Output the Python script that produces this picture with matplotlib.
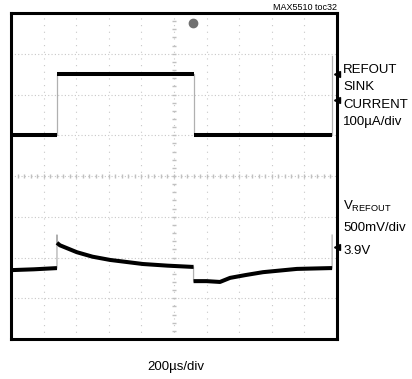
import numpy as np
import matplotlib.pyplot as plt

plt.rcParams['font.family'] = ['Liberation Sans', 'DejaVu Sans']

# scope screen in divisions: 10 across, 8 high
current_t = [0.0, 1.41, 1.41, 5.60, 5.60, 9.85, 9.85]
current_v = [5.0, 5.0, 6.5, 6.5, 5.0, 5.0, 6.95]

volt_t = [0.0, 0.70, 1.41, 1.41, 1.41, 1.50, 2.02, 2.50, 3.04, 4.05, 4.80, 5.55, 5.60,
          5.60, 6.00, 6.41, 6.72, 7.20, 7.73, 8.77, 9.79, 9.85, 9.85]
volt_v = [1.69, 1.71, 1.74, 2.55, 2.36, 2.30, 2.13, 2.02, 1.94, 1.84, 1.80, 1.77, 1.77,
          1.42, 1.42, 1.40, 1.50, 1.57, 1.64, 1.72, 1.74, 1.74, 2.55]

markers_y = [6.5, 5.87, 2.26]
trigger = (5.58, 7.75)


def draw_trace(ax, t, v):
    # fast edges show up faint, the settled parts dark
    ax.plot(t, v, color='#b0b0b0', lw=0.9, zorder=3)
    start = 0
    for i in range(1, len(t) + 1):
        if i == len(t) or t[i] == t[i - 1]:
            if i - start >= 2:
                ax.plot(t[start:i], v[start:i], color='black', lw=2.9,
                        solid_capstyle='butt', zorder=4)
            start = i


fig = plt.figure(figsize=(4.12, 3.79), dpi=100)
ax = fig.add_axes([11 / 412, 40 / 379, 326 / 412, 326 / 379])
ax.set_xlim(0, 10)
ax.set_ylim(0, 8)

for x in range(1, 10):
    ax.axvline(x, color='#c8c8c8', lw=0.8, ls=(0, (1, 5)), zorder=1)
for y in range(1, 8):
    ax.axhline(y, color='#c8c8c8', lw=0.8, ls=(0, (1, 2)), zorder=1)
# subdivision marks on the centre lines
sub = np.arange(0, 10.01, 0.2)
ax.plot(sub, np.full(sub.size, 4.0), ls='none', marker='|', ms=3, color='#c0c0c0', zorder=1)
subv = np.arange(0, 8.01, 0.2)
ax.plot(np.full(subv.size, 5.0), subv, ls='none', marker='_', ms=3, color='#c0c0c0', zorder=1)

draw_trace(ax, current_t, current_v)
draw_trace(ax, volt_t, volt_v)

ax.plot([10] * len(markers_y), markers_y, ls='none', marker='<', ms=4,
        color='black', clip_on=False, zorder=5)
ax.plot(*trigger, marker='o', ms=6, color='#707070', zorder=5)

ax.set_xticks([])
ax.set_yticks([])
for s in ax.spines.values():
    s.set_linewidth(2.2)

W, H = 412, 379


def ftext(x, y, s, **kw):
    fig.text(x / W, 1 - y / H, s, va='center', **kw)


ftext(337, 7, 'MAX5510 toc32', ha='right', fontsize=6.5)
ftext(343, 70, 'REFOUT', ha='left', fontsize=9.5)
ftext(343, 87, 'SINK', ha='left', fontsize=9.5)
ftext(343, 105, 'CURRENT', ha='left', fontsize=9.5)
ftext(343, 122, '100µA/div', ha='left', fontsize=9.5)
ftext(343, 206, r'$\mathregular{V_{REFOUT}}$', ha='left', fontsize=9.5)
ftext(343, 228, '500mV/div', ha='left', fontsize=9.5)
ftext(343, 251, '3.9V', ha='left', fontsize=9.5)
ftext(176, 367, '200µs/div', ha='center', fontsize=9.5)

fig.savefig('out.png', dpi=100)
